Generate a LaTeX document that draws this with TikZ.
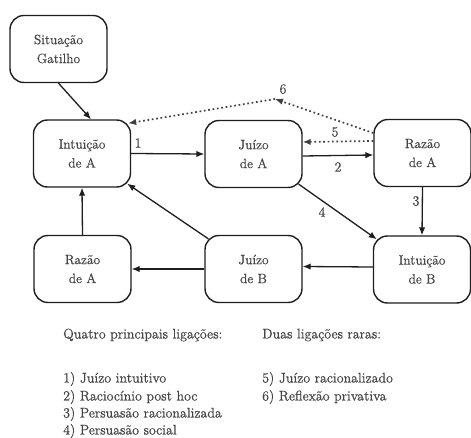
\documentclass[tikz,border=0pt]{standalone}
\usepackage{fontspec}
\newfontfamily\dfont{Latin Modern Roman}[FakeBold=0.6]
\usetikzlibrary{arrows.meta}
\definecolor{txt}{HTML}{454545}
\definecolor{ln}{HTML}{1E1E1E}
\begin{document}
\begin{tikzpicture}[x=1bp,y=-1bp,
 box/.style={draw=ln, line width=1.4bp, rounded corners=14bp, minimum width=97bp, minimum height=67bp, align=center, text=txt, font=\dfont\fontsize{13.5}{19}\selectfont, inner sep=0pt},
 arr/.style={draw=ln, line width=1.3bp, -{Latex[length=8bp,width=6.5bp]}},
 dotarr/.style={draw=ln!85, line width=1.7bp, dash pattern=on 1.7bp off 2.7bp, -{Latex[length=8bp,width=6.5bp]}},
 num/.style={text=txt, font=\dfont\fontsize{14}{15}\selectfont, inner sep=0pt},
 leg/.style={text=txt, font=\dfont\fontsize{14}{15}\selectfont, anchor=west, inner sep=0pt}]
\useasboundingbox[fill=white] (0,0) rectangle (471,438);
\node[box] (sg) at (58.5,49) {Situação\\Gatilho};
\node[box] (ia) at (82,153.5) {Intuição\\de A};
\node[box] (ja) at (253.5,154) {Juízo\\de A};
\node[box] (ra) at (422.5,153) {Razão\\de A};
\node[box] (rb) at (82.5,269) {Razão\\de A};
\node[box] (jb) at (253.5,269) {Juízo\\de B};
\node[box] (ib) at (422,269.5) {Intuição\\de B};
\coordinate (apex) at (275,99);
% connectors
\draw[arr] (sg.south) -- ([xshift=9bp]ia.north);
\draw[arr] (ia.east) -- (ja.west);
\draw[arr] ([yshift=-2bp]ja.east) -- ([yshift=-2bp]ra.west);
\draw[dotarr] ([yshift=12bp]ra.west) -- ([yshift=12bp]ja.east);
\draw[dotarr] ([yshift=20bp]ra.west) -- (apex);
\draw[dotarr] (apex) -- ([xshift=-3bp,yshift=-4bp]ia.north east);
\draw[arr] (ra.south) -- (ib.north);
\draw[arr] ([xshift=-4bp,yshift=4bp]ja.south east) -- ([xshift=4bp,yshift=-4bp]ib.north west);
\draw[arr] ([yshift=2.5bp]ib.west) -- ([yshift=2.5bp]jb.east);
\draw[arr] (jb.west) -- (rb.east);
\draw[arr] (rb.north) -- (ia.south);
\draw[arr] ([xshift=4bp,yshift=-4bp]jb.north west) -- ([xshift=-4bp,yshift=4bp]ia.south east);
% numbers
\node[num] (l1) at (138,143) {1};
\node[num] (l2) at (338,167) {2};
\node[num] (l3) at (416,201) {3};
\node[num] (l4) at (322,212) {4};
\node[num] (l5) at (335,132) {5};
\node[num] (l6) at (283,89) {6};
% legend
\node[leg] (q0) at (63,335) {Quatro principais ligações:};
\node[leg] (q1) at (63,379) {1) Juízo intuitivo};
\node[leg] (q2) at (63,397) {2) Raciocínio post hoc};
\node[leg] (q3) at (63,414) {3) Persuasão racionalizada};
\node[leg] (q4) at (63,431) {4) Persuasão social};
\node[leg] (d0) at (262,335) {Duas ligações raras:};
\node[leg] (d5) at (262,379) {5) Juízo racionalizado};
\node[leg] (d6) at (262,397) {6) Reflexão privativa};
\end{tikzpicture}
\end{document}
